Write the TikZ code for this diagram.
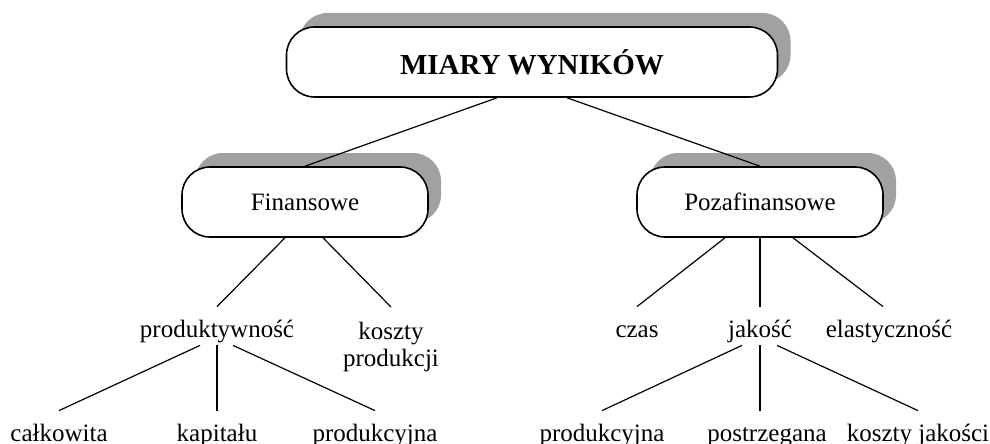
\documentclass[tikz,border=0pt]{standalone}
\usepackage{fontspec}
\setmainfont{Liberation Serif}
\usetikzlibrary{shadows}

\begin{document}
\begin{tikzpicture}[x=0.5pt,y=-0.5pt]
	\useasboundingbox (0,0) rectangle (990,444);
	\begin{scope}[every node/.style={draw,thick,fill=white,rounded corners=14pt,minimum height=35pt,inner sep=0pt,drop shadow={shadow xshift=6.5pt,shadow yshift=7pt,fill=black!37,opacity=1},font=\fontsize{12.5}{15}\selectfont}]
	\node[minimum width=245.5pt,font=\fontsize{14.5}{17}\selectfont\bfseries] (A) at (532,62) {MIARY WYNIKÓW};
	\node[minimum width=123pt] (B) at (305,202) {Finansowe};
	\node[minimum width=123pt] (C) at (760,202) {Pozafinansowe};
	\end{scope}
	\begin{scope}[every node/.style={inner sep=0pt,text height=15pt,text depth=4pt,anchor=base,font=\fontsize{12.5}{13.5}\selectfont}]
	\node (D) at (217,337) {produktywność};
	\node[align=center,text height=,text depth=,anchor=north,inner ysep=7.5pt] (E) at (391,307) {koszty\\produkcji};
	\node (F) at (637,337) {czas};
	\node (G) at (760,337) {jakość};
	\node (H) at (889,337) {elastyczność};
	\node (I) at (59,441) {całkowita};
	\node (J) at (217,441) {kapitału};
	\node (K) at (375,441) {produkcyjna};
	\node (L) at (602,441) {produkcyjna};
	\node (M) at (767,441) {postrzegana};
	\node (N) at (918,441) {koszty jakości};
	\end{scope}
	\draw [semithick] ([xshift=-17.5pt]A.south) edge (B.north);
	\draw [semithick] ([xshift=17.5pt]A.south) edge (C.north);
	\draw [semithick] ([xshift=-10pt]B.south) edge (D.north);
	\draw [semithick] ([xshift=9pt]B.south) edge (E.north);
	\draw [semithick] ([xshift=-17.5pt]C.south) edge (F.north);
	\draw [semithick] (C.south) edge (G.north);
	\draw [semithick] ([xshift=16.5pt]C.south) edge ([xshift=-3pt]H.north);
	\draw [semithick] ([xshift=-8.5pt]D.south) edge (I.north);
	\draw [semithick] (D.south) edge (J.north);
	\draw [semithick] ([xshift=8pt]D.south) edge (K.north);
	\draw [semithick] ([xshift=-9pt]G.south) edge (L.north);
	\draw [semithick] (G.south) edge ([xshift=-3.5pt]M.north);
	\draw [semithick] ([xshift=8.5pt]G.south) edge (N.north);
\end{tikzpicture}
\end{document}
